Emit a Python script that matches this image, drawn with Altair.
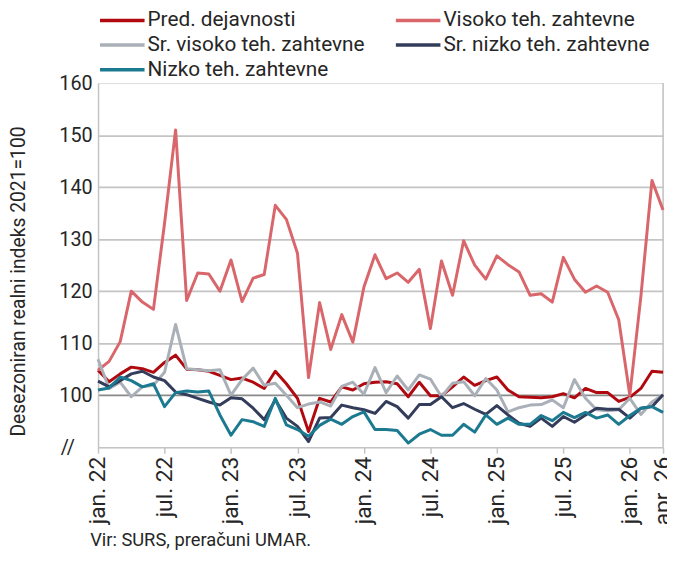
import altair as alt
import pandas as pd

series_names = ["Pred. dejavnosti", "Visoko teh. zahtevne", "Sr. visoko teh. zahtevne",
                "Sr. nizko teh. zahtevne", "Nizko teh. zahtevne"]
series_colors = ["#B00A10", "#D9666B", "#A9B0B7", "#333D5B", "#1C7A90"]
# legend fills column by column: this order puts the entries in the reference's rows
legend_order = ["Pred. dejavnosti", "Sr. visoko teh. zahtevne", "Nizko teh. zahtevne",
                "Visoko teh. zahtevne", "Sr. nizko teh. zahtevne"]

# monthly, jan 2022 .. apr 2026 (52 months)
pred = [104.8, 102.6, 104.1, 105.4, 105.1, 104.4, 106.3, 107.7, 105.0, 104.9, 104.6, 103.8,
        103.0, 103.3, 102.5, 101.3, 104.6, 102.2, 99.4, 93.0, 99.4, 98.7, 101.6, 101.0,
        102.2, 102.5, 102.6, 102.2, 99.7, 102.5, 99.9, 99.9, 101.6, 103.5, 101.9, 102.8,
        103.5, 101.0, 99.7, 99.6, 99.5, 99.7, 100.3, 99.5, 101.3, 100.5, 100.5, 98.8,
        99.6, 101.3, 104.6, 104.4]
visoko = [104.8, 106.5, 110.3, 120.0, 117.9, 116.5, 133.0, 151.0, 118.2, 123.5, 123.3, 120.0,
          126.0, 118.0, 122.5, 123.2, 136.5, 133.8, 127.3, 103.4, 117.8, 108.8, 115.5, 110.2,
          120.8, 127.0, 122.4, 123.5, 121.7, 124.2, 112.8, 125.8, 119.2, 129.7, 125.0, 122.3,
          126.8, 125.1, 123.7, 119.2, 119.5, 117.9, 126.5, 122.3, 119.8, 121.0, 119.8, 114.5,
          100.0, 119.0, 141.3, 135.6]
sr_visoko = [106.9, 101.3, 102.5, 99.7, 101.6, 101.9, 104.4, 113.6, 105.1, 104.9, 104.7, 104.9,
             100.0, 103.0, 105.2, 101.9, 102.3, 100.0, 97.6, 98.3, 98.7, 97.9, 101.7, 102.5,
             100.2, 105.3, 100.5, 103.7, 101.0, 103.9, 103.1, 99.7, 102.3, 102.6, 99.9, 103.2,
             101.0, 96.8, 97.6, 98.1, 98.2, 99.1, 97.6, 103.0, 99.4, 97.2, 97.0, 97.2,
             99.4, 96.3, 98.7, 100.1]
sr_nizko = [102.7, 101.6, 102.8, 104.1, 104.6, 103.5, 102.8, 100.6, 100.1, 99.4, 98.7, 98.1,
            99.5, 99.3, 97.5, 95.3, 99.1, 95.6, 94.0, 91.1, 95.6, 95.7, 98.1, 97.6,
            97.2, 96.5, 98.8, 97.8, 95.6, 98.2, 98.2, 99.7, 97.6, 98.4, 97.3, 96.3,
            98.0, 96.2, 94.6, 94.0, 95.6, 94.0, 95.9, 94.8, 96.2, 97.5, 97.3, 97.3,
            95.6, 97.5, 97.8, 100.1]
nizko = [101.0, 101.4, 103.5, 102.8, 101.6, 102.2, 97.8, 100.5, 100.8, 100.6, 100.8, 96.2,
         92.3, 95.3, 94.9, 94.0, 99.4, 94.3, 93.4, 92.1, 94.2, 95.4, 94.4, 95.9,
         96.8, 93.4, 93.4, 93.2, 90.8, 92.5, 93.4, 92.3, 92.3, 94.4, 92.9, 96.2,
         94.4, 95.6, 94.4, 94.4, 96.1, 95.1, 96.7, 95.7, 96.7, 95.6, 96.2, 94.4,
         96.1, 97.5, 97.8, 96.7]

tick_months = [0, 6, 12, 18, 24, 30, 36, 42, 48, 51]
month_abbr = ["jan.", "feb.", "mar.", "apr.", "maj", "jun.", "jul.", "avg.", "sep.", "okt.", "nov.", "dec."]
y_ticks = [90, 100, 110, 120, 130, 140, 150, 160]

all_values = [pred, visoko, sr_visoko, sr_nizko, nizko]
rows = []
for name, vals in zip(series_names, all_values):
    for i, v in enumerate(vals):
        rows.append({"idx": i, "value": v, "series": name})
df = pd.DataFrame(rows)

FONT = "Roboto"
TXT = "#262626"
GRID = "#c4c4c4"
W, H = 571, 368

month_arr = "[" + ",".join("'%s'" % m for m in month_abbr) + "]"
x_label_expr = month_arr + "[datum.value % 12] + ' ' + (22 + floor(datum.value / 12))"
y_label_expr = "datum.value == 90 ? '//' : datum.label"

color_scale = alt.Scale(domain=legend_order,
                        range=[series_colors[series_names.index(n)] for n in legend_order])

layers = []
for name in series_names:
    enc = dict(
        x=alt.X("idx:Q", scale=alt.Scale(domain=[0, 51], nice=False, zero=False),
                axis=alt.Axis(values=tick_months, labelExpr=x_label_expr, labelAngle=270,
                              labelFontSize=23, labelColor=TXT, labelFont=FONT, labelPadding=3,
                              ticks=True, tickSize=6, tickColor=GRID, tickWidth=1.5,
                              domainColor=GRID, domainWidth=1.5, grid=False, title=None)),
        y=alt.Y("value:Q", scale=alt.Scale(domain=[90, 160], nice=False, zero=False),
                axis=alt.Axis(values=y_ticks, labelExpr=y_label_expr,
                              labelFontSize=20, labelColor=TXT, labelFont=FONT,
                              labelPadding={"condition": {"test": "datum.value == 90", "value": 24},
                                            "value": 6},
                              ticks=False, domainColor=GRID, domainWidth=1.5,
                              grid=True,
                              gridColor={"expr": "datum.value == 100 ? '#8a8a8a' : '#c4c4c4'"},
                              gridOpacity={"expr": "datum.value == 90 || datum.value == 160 ? 0 : 1"},
                              gridWidth=1.8,
                              title="Desezoniran realni indeks 2021=100",
                              titleFontSize=19.5, titleFont=FONT, titleFontWeight="normal",
                              titleColor=TXT, titleX=-80, titleY=H / 2 + 16, titleAngle=270,
                              titleAlign="center", titleBaseline="middle")),
        color=alt.Color("series:N", scale=color_scale,
                        legend=alt.Legend(title=None, orient="none", legendX=0, legendY=-78,
                                          columns=2, columnPadding=24, rowPadding=-2,
                                          padding=0,
                                          symbolType="M-1.8,0H1.8", symbolStrokeWidth=3.5,
                                          symbolSize=625, symbolOffset=10,
                                          labelFontSize=21, labelFont=FONT,
                                          labelColor=TXT, labelLimit=400,
                                          labelOffset=11)),
    )
    layers.append(
        alt.Chart(df).transform_filter(alt.datum.series == name)
        .mark_line(strokeWidth=3, strokeJoin="round")
        .encode(**enc)
    )

right_edge = alt.Chart(pd.DataFrame({"x": [51], "y": [90], "y2": [160]})).mark_rule(
    color=GRID, strokeWidth=1.5).encode(x="x:Q", y="y:Q", y2="y2:Q")

chart = alt.layer(right_edge, *layers).properties(
    width=W, height=H,
    autosize=alt.AutoSizeParams(type="none"),
    padding={"left": 91, "top": 73, "right": 4, "bottom": 103},
    title=alt.TitleParams(text="Vir: SURS, preračuni UMAR.", orient="bottom", anchor="start",
                          frame="group", fontSize=18.5, fontWeight="normal", font=FONT,
                          color=TXT, offset=6, dx=-8),
).configure_view(stroke=None).configure(font=FONT)

chart.save("out.html", embed_options={"renderer": "svg", "actions": False})
